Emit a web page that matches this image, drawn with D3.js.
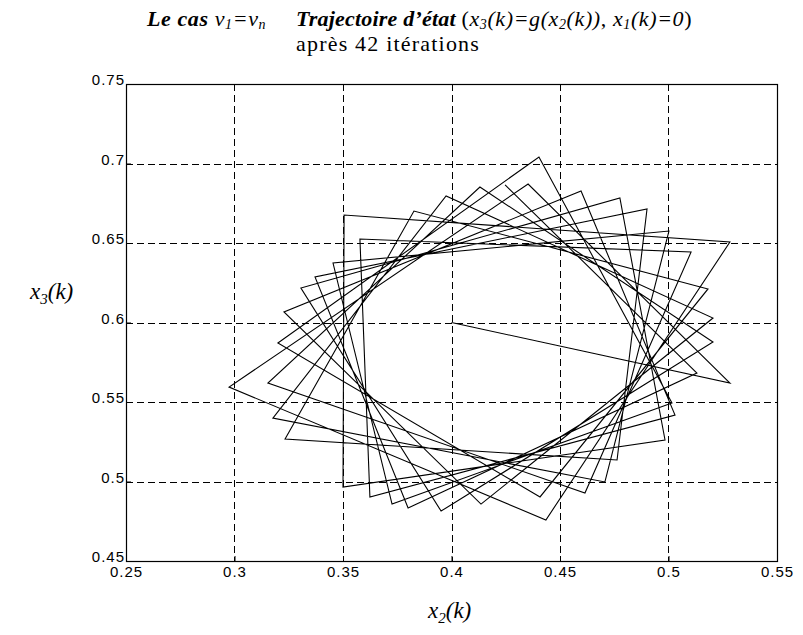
<!DOCTYPE html>
<html>
<head>
<meta charset="utf-8">
<script src="https://cdn.jsdelivr.net/npm/d3@7"></script>
<style>
  body { margin: 0; background: #fff; }
  svg { display: block; }
</style>
</head>
<body>
<svg id="chart" width="803" height="635"></svg>
<script>
// Axis ticks and labels
const xTicks = [0.25, 0.3, 0.35, 0.4, 0.45, 0.5, 0.55];
const xTickLabels = ["0.25", "0.3", "0.35", "0.4", "0.45", "0.5", "0.55"];
const yTicks = [0.45, 0.5, 0.55, 0.6, 0.65, 0.7, 0.75];
const yTickLabels = ["0.45", "0.5", "0.55", "0.6", "0.65", "0.7", "0.75"];

// State trajectory: x2(k) and x3(k), k = 0..42
const x2 = [0.4000, 0.5283, 0.4353, 0.2975, 0.4435, 0.5283, 0.3505, 0.3500, 0.4984, 0.4776,
            0.3306, 0.3952, 0.5205, 0.4131, 0.3154, 0.4615, 0.5104, 0.3578, 0.3624, 0.5030,
            0.4597, 0.3228, 0.4136, 0.5205, 0.3975, 0.3177, 0.4707, 0.5002, 0.3454, 0.3726,
            0.5016, 0.4403, 0.3200, 0.4408, 0.5182, 0.3827, 0.3233, 0.4763, 0.4901, 0.3371,
            0.3800, 0.5131, 0.4247];
const x3 = [0.6000, 0.5619, 0.6871, 0.5594, 0.4758, 0.6506, 0.6676, 0.4965, 0.5261, 0.6783,
            0.6217, 0.4814, 0.5877, 0.6852, 0.5619, 0.4928, 0.6443, 0.6525, 0.4903, 0.5418,
            0.6827, 0.6066, 0.4858, 0.6028, 0.6796, 0.5399, 0.4997, 0.6575, 0.6374, 0.4858,
            0.5494, 0.7041, 0.5871, 0.4903, 0.6211, 0.6701, 0.5267, 0.5135, 0.6714, 0.6286,
            0.4833, 0.5682, 0.6865];

const svg = d3.select("#chart");
const plotL = 126, plotR = 777, plotT = 84, plotB = 561;

const x = d3.scaleLinear().domain([0.25, 0.55]).range([plotL, plotR]);
const y = d3.scaleLinear().domain([0.45, 0.75]).range([plotB, plotT]);

// Dashed grid
const grid = svg.append("g").attr("stroke", "#000").attr("stroke-width", 1)
  .attr("stroke-dasharray", "7,4").attr("fill", "none");
xTicks.slice(1, -1).forEach(v => {
  grid.append("line").attr("x1", Math.round(x(v)) + 0.5).attr("x2", Math.round(x(v)) + 0.5)
    .attr("y1", plotT).attr("y2", plotB);
});
yTicks.slice(1, -1).forEach(v => {
  grid.append("line").attr("y1", Math.round(y(v)) + 0.5).attr("y2", Math.round(y(v)) + 0.5)
    .attr("x1", plotL).attr("x2", plotR);
});

// Trajectory
const pts = x2.map((v, i) => [v, x3[i]]);
svg.append("path")
  .attr("d", d3.line().x(d => x(d[0])).y(d => y(d[1]))(pts))
  .attr("fill", "none").attr("stroke", "#000").attr("stroke-width", 1.1)
  .attr("stroke-linejoin", "miter");

// Frame
svg.append("rect").attr("x", plotL + 0.5).attr("y", plotT + 0.5)
  .attr("width", plotR - plotL).attr("height", plotB - plotT)
  .attr("fill", "none").attr("stroke", "#000").attr("stroke-width", 1.2);

// Axes (ticks inside, labels outside)
const xAxis = d3.axisBottom(x).tickValues(xTicks)
  .tickFormat((d, i) => xTickLabels[i]).tickSizeInner(-5).tickSizeOuter(0).tickPadding(5);
const yAxis = d3.axisLeft(y).tickValues(yTicks)
  .tickFormat((d, i) => yTickLabels[i]).tickSizeInner(-5).tickSizeOuter(0).tickPadding(1);

const gx = svg.append("g").attr("transform", `translate(0,${plotB})`).call(xAxis);
const gy = svg.append("g").attr("transform", `translate(${plotL},0)`).call(yAxis);
[gx, gy].forEach(g => {
  g.select(".domain").remove();
  g.selectAll("line").attr("stroke", "#000");
  g.selectAll("text").attr("font-family", "Liberation Sans, Arial, sans-serif")
    .attr("font-size", 15).attr("letter-spacing", 1).attr("fill", "#000");
});
gy.selectAll("text").attr("dy", "0.05em");

// Title
const serif = "Liberation Serif, Times New Roman, serif";
const t1 = svg.append("text").attr("x", 147).attr("y", 26)
  .attr("font-family", serif).attr("font-size", 22).attr("font-style", "italic")
  .attr("letter-spacing", 0.6);
t1.append("tspan").attr("font-weight", "bold").text("Le cas ");
t1.append("tspan").text("v");
t1.append("tspan").attr("font-size", 14).attr("dy", 2.5).text("1");
t1.append("tspan").attr("dy", -2.5).text("=v");
t1.append("tspan").attr("font-size", 14).attr("dy", 2.5).text("n");

const t2 = svg.append("text").attr("x", 296).attr("y", 26)
  .attr("font-family", serif).attr("font-size", 22).attr("font-style", "italic")
  .attr("letter-spacing", 0.6);
t2.append("tspan").attr("font-weight", "bold").attr("letter-spacing", 0.2).text("Trajectoire d\u2019\u00e9tat ");
t2.append("tspan").attr("font-style", "normal").text("(");
t2.append("tspan").text("x");
t2.append("tspan").attr("font-size", 14).attr("dy", 2.5).text("3");
t2.append("tspan").attr("dy", -2.5).text("(k)=g(x");
t2.append("tspan").attr("font-size", 14).attr("dy", 2.5).text("2");
t2.append("tspan").attr("dy", -2.5).text("(k))");
t2.append("tspan").attr("font-style", "normal").text(", ");
t2.append("tspan").text("x");
t2.append("tspan").attr("font-size", 14).attr("dy", 2.5).text("1");
t2.append("tspan").attr("dy", -2.5).text("(k)=0");
t2.append("tspan").attr("font-style", "normal").text(")");

svg.append("text").attr("x", 296).attr("y", 51)
  .attr("font-family", serif).attr("font-size", 22).attr("letter-spacing", 1.2)
  .text("apr\u00e8s 42 it\u00e9rations");

// Axis titles
const yl = svg.append("text").attr("x", 30).attr("y", 299)
  .attr("font-family", serif).attr("font-size", 23).attr("font-style", "italic");
yl.append("tspan").text("x");
yl.append("tspan").attr("font-size", 15).attr("dy", 5).text("3");
yl.append("tspan").attr("dy", -5).text("(k)");

const xl = svg.append("text").attr("x", 428).attr("y", 618)
  .attr("font-family", serif).attr("font-size", 23).attr("font-style", "italic");
xl.append("tspan").text("x");
xl.append("tspan").attr("font-size", 15).attr("dy", 5).text("2");
xl.append("tspan").attr("dy", -5).text("(k)");
</script>
</body>
</html>
